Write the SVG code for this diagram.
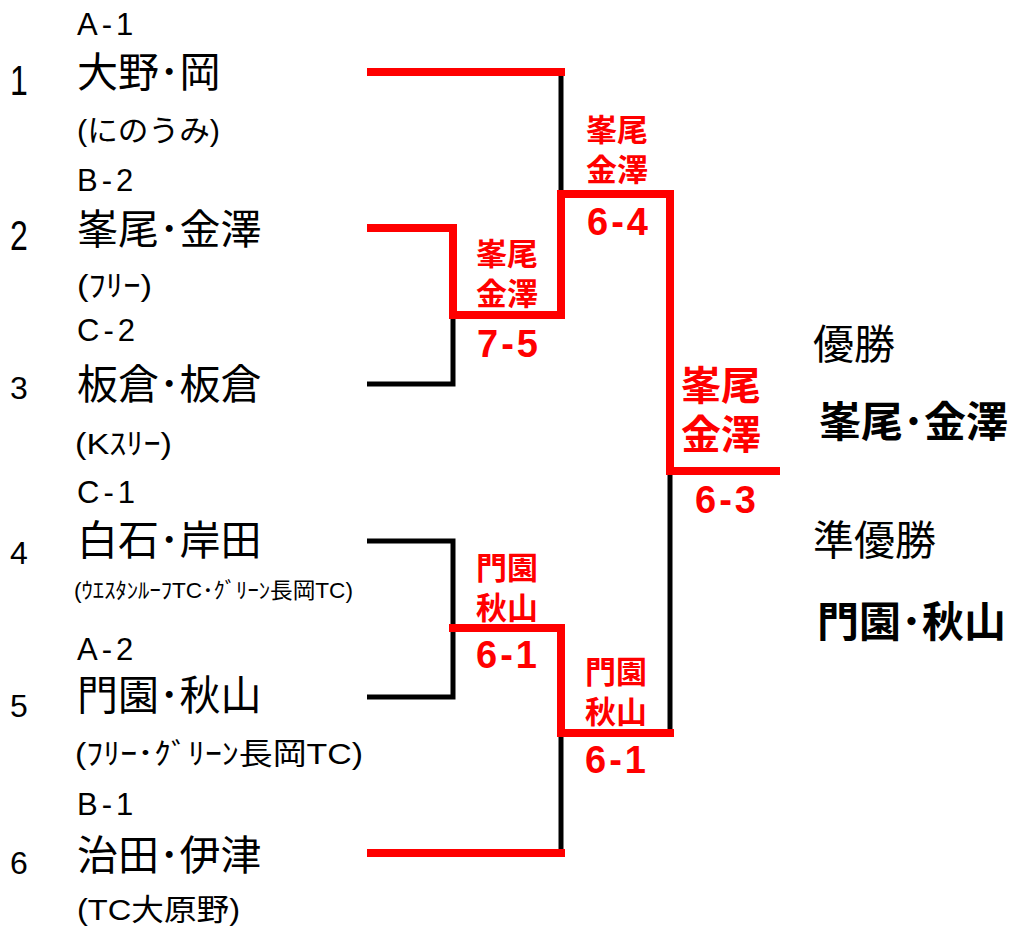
<svg xmlns="http://www.w3.org/2000/svg" width="1015" height="931" viewBox="0 0 1015 931">
<style>
text{font-family:"Liberation Sans","Noto Sans CJK JP",sans-serif;fill:#000}
.num{font-size:32px}
.seed{font-size:31px;letter-spacing:4px}
.name{font-size:41px;font-family:"Noto Sans CJK JP",sans-serif}
.aff{font-size:30px}
.red{fill:#ff0000;font-weight:bold;text-anchor:middle}
.rn{font-size:31px;font-family:"Noto Sans CJK JP",sans-serif}
.rs{font-size:38px;letter-spacing:3px}
.bk{fill:none;stroke:#000;stroke-width:5}
.rd{fill:none;stroke:#ff0000;stroke-width:8}
.res{font-size:41px;font-family:"Noto Sans CJK JP",sans-serif}
.win{font-size:42px;font-weight:bold;font-family:"Noto Sans CJK JP",sans-serif}
</style>
<rect width="1015" height="931" fill="#fff"/>
<g id="connectors">
<polyline class="bk" points="561,72 561,194"/>
<polyline class="bk" points="367,384 453,384 453,315"/>
<polyline class="bk" points="367,541 453,541 453,697 367,697"/>
<polyline class="bk" points="561,733 561,853"/>
<polyline class="bk" points="670,471 670,733"/>
<polyline class="rd" points="367,72 565,72"/>
<polyline class="rd" points="367,228 453,228 453,315 561,315 561,194 670,194 670,471 780,471"/>
<polyline class="rd" points="449,628 561,628 561,733 674,733"/>
<polyline class="rd" points="367,853 565,853"/>
</g>
<g id="team1">
<text class="num" transform="translate(10,95) scale(1,1.3)">1</text>
<text class="seed" x="77" y="35">A-1</text>
<text class="name" x="77" y="87">大野･岡</text>
<text class="aff" x="77" y="141" textLength="143" lengthAdjust="spacingAndGlyphs">(にのうみ)</text>
</g>
<g id="team2">
<text class="num" transform="translate(10,250) scale(1,1.3)">2</text>
<text class="seed" x="77" y="191">B-2</text>
<text class="name" x="77" y="244">峯尾･金澤</text>
<text class="aff" x="77" y="296" textLength="75" lengthAdjust="spacingAndGlyphs">(ﾌﾘｰ)</text>
</g>
<g id="team3">
<text class="num" x="10" y="399">3</text>
<text class="seed" x="77" y="341">C-2</text>
<text class="name" x="77" y="399">板倉･板倉</text>
<text class="aff" x="75" y="454" textLength="97" lengthAdjust="spacingAndGlyphs">(Kｽﾘｰ)</text>
</g>
<g id="team4">
<text class="num" x="10" y="564">4</text>
<text class="seed" x="77" y="503">C-1</text>
<text class="name" x="77" y="555">白石･岸田</text>
<text x="74" y="598" font-size="22" textLength="279" lengthAdjust="spacingAndGlyphs">(ｳｴｽﾀﾝﾙｰﾌTC･ｸﾞﾘｰﾝ長岡TC)</text>
</g>
<g id="team5">
<text class="num" x="10" y="717">5</text>
<text class="seed" x="77" y="660">A-2</text>
<text class="name" x="77" y="710">門園･秋山</text>
<text class="aff" x="75" y="764" textLength="288" lengthAdjust="spacingAndGlyphs">(ﾌﾘｰ･ｸﾞﾘｰﾝ長岡TC)</text>
</g>
<g id="team6">
<text class="num" x="10" y="874">6</text>
<text class="seed" x="77" y="815">B-1</text>
<text class="name" x="77" y="870">治田･伊津</text>
<text class="aff" x="77" y="920" textLength="163" lengthAdjust="spacingAndGlyphs">(TC大原野)</text>
</g>
<g id="semi1">
<text class="red rn" x="507" y="265"><tspan x="507">峯尾</tspan><tspan x="507" dy="40">金澤</tspan></text>
<text class="red rs" x="509" y="357">7-5</text>
</g>
<g id="semi2">
<text class="red rn" x="507" y="579"><tspan x="507">門園</tspan><tspan x="507" dy="40">秋山</tspan></text>
<text class="red rs" x="508" y="668">6-1</text>
</g>
<g id="final1">
<text class="red rn" x="617" y="141"><tspan x="617">峯尾</tspan><tspan x="617" dy="40">金澤</tspan></text>
<text class="red rs" x="619" y="235">6-4</text>
</g>
<g id="final2">
<text class="red rn" x="616" y="683"><tspan x="616">門園</tspan><tspan x="616" dy="40">秋山</tspan></text>
<text class="red rs" x="617" y="773">6-1</text>
</g>
<g id="champ">
<text class="red" x="721" y="400" font-size="40" font-family="Noto Sans CJK JP,sans-serif"><tspan x="721">峯尾</tspan><tspan x="721" dy="49">金澤</tspan></text>
<text class="red rs" x="727" y="513">6-3</text>
</g>
<g id="results">
<text class="res" x="813" y="359">優勝</text>
<text class="win" x="819" y="437">峯尾･金澤</text>
<text class="res" x="813" y="555">準優勝</text>
<text class="win" x="817" y="637">門園･秋山</text>
</g>
</svg>
